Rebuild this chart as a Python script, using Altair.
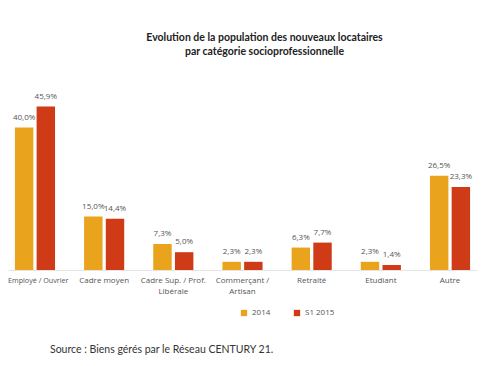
import altair as alt
import pandas as pd

categories = ["Employé / Ouvrier", "Cadre moyen", "Cadre Sup. / Prof.|Libérale",
              "Commerçant /|Artisan", "Retraité", "Etudiant", "Autre"]
series = ["2014", "S1 2015"]
values_2014 = [40.0, 15.0, 7.3, 2.3, 6.3, 2.3, 26.5]
values_2015 = [45.9, 14.4, 5.0, 2.3, 7.7, 1.4, 23.3]
colors = ["#E9A31C", "#CF3B17"]

rows = []
for c, a, b in zip(categories, values_2014, values_2015):
    rows.append({"cat": c, "serie": series[0], "val": a,
                 "lab": f"{a:.1f}".replace(".", ",") + "%"})
    rows.append({"cat": c, "serie": series[1], "val": b,
                 "lab": f"{b:.1f}".replace(".", ",") + "%"})
df = pd.DataFrame(rows)

first = categories[0]
test = f"datum.value === '{first}'"
x = alt.X("cat:N", sort=categories, title=None,
          scale=alt.Scale(paddingInner=0.42, paddingOuter=0.1),
          axis=alt.Axis(labelExpr="split(datum.label, '|')", labelAngle=0,
                        labelFont="Open Sans", labelColor="#555555",
                        ticks=False, domainColor="#e4e4e4", labelPadding=6,
                        labelLineHeight=11, labelBound=False, labelOverlap=False,
                        labelFontSize={"condition": {"test": test, "value": 7.2},
                                       "value": 8},
                        labelAlign={"condition": {"test": test, "value": "left"},
                                    "value": "center"},
                        labelOffset={"condition": {"test": test, "value": -27},
                                     "value": 0}))
xoff = alt.XOffset("serie:N", sort=series, scale=alt.Scale(paddingInner=0.15))
y = alt.Y("val:Q", scale=alt.Scale(domain=[0, 50]), axis=None)

bars = alt.Chart(df).mark_bar().encode(
    x=x, xOffset=xoff, y=y,
    color=alt.Color("serie:N", sort=series,
                    scale=alt.Scale(domain=series, range=colors),
                    legend=alt.Legend(title=None, orient="none", direction="horizontal",
                                      legendX=232, legendY=217, symbolType="square",
                                      symbolSize=40, labelFont="Open Sans",
                                      labelFontSize=8, labelColor="#555555",
                                      columnPadding=22, symbolStrokeWidth=0)),
)
labels = alt.Chart(df).mark_text(dy=-6, baseline="bottom", font="Open Sans",
                                 fontSize=8, color="#555555").encode(
    x=x, xOffset=xoff, y=y, text="lab:N")

source = alt.Chart(pd.DataFrame({"t": ["Source : Biens gérés par le Réseau CENTURY 21."]})).mark_text(
    align="left", baseline="middle", font="Lato", fontSize=10.5, color="#333333"
).encode(x=alt.value(42), y=alt.value(258), text="t:N")

chart = alt.layer(bars, labels, source).properties(
    width=469, height=178,
    autosize=alt.AutoSizeParams(type="none"),
    padding={"left": 0, "top": 84, "right": 15, "bottom": 88},
    title=alt.TitleParams(
        ["Evolution de la population des nouveaux locataires",
         "par catégorie socioprofessionnelle"],
        font="Lato", fontSize=10.5, fontWeight="bold", color="#222222",
        anchor="middle", dx=22, offset=35, lineHeight=14),
).configure_view(stroke=None)

chart.save("out.html", embed_options={"renderer": "svg", "actions": False})
